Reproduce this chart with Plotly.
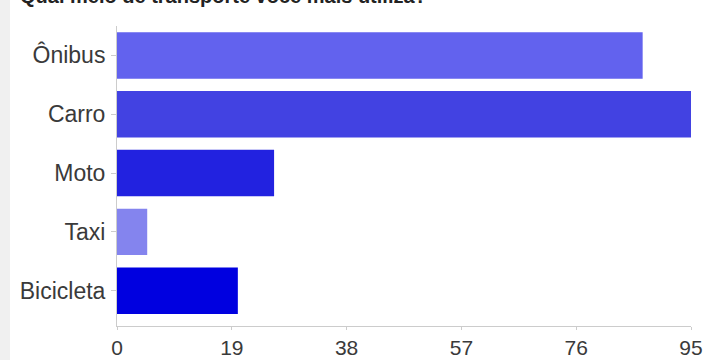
import plotly.graph_objects as go

categories = ["Ônibus", "Carro", "Moto", "Taxi", "Bicicleta"]
values = [87, 95, 26, 5, 20]
colors = ["#6262ee", "#4242e2", "#2222e0", "#8484ee", "#0000e0"]
x_ticks = [0, 19, 38, 57, 76, 95]
title_text = "Qual meio de transporte você mais utiliza?"

fig = go.Figure(go.Bar(
    x=values, y=categories, orientation="h",
    marker=dict(color=colors, line=dict(width=0)),
))

fig.update_layout(
    width=707, height=360,
    margin=dict(l=117, r=16, t=26, b=34),
    paper_bgcolor="white", plot_bgcolor="white",
    bargap=0.21,
    showlegend=False,
    font=dict(family="Liberation Sans, Arial, sans-serif", size=22, color="#3a3a3a"),
)
fig.add_annotation(text="<b>" + title_text + "</b>", xref="paper", yref="paper",
                   x=-99/574, y=1, xanchor="left", yanchor="bottom", yshift=17,
                   showarrow=False, font=dict(size=20, color="#222"))
fig.update_xaxes(range=[0, 95], tickvals=x_ticks, showgrid=False, zeroline=False,
                 showline=True, linecolor="#cccccc", linewidth=1, automargin=False,
                 tickfont=dict(size=21), ticklabelstandoff=0,
                 ticks="outside", ticklen=3, tickcolor="#cccccc", fixedrange=True)
fig.update_yaxes(categoryorder="array", categoryarray=categories,
                 range=[4.6, -0.5], showgrid=False, zeroline=False, automargin=False,
                 showline=True, linecolor="#cccccc", linewidth=1,
                 tickfont=dict(size=23),
                 ticks="outside", ticklen=5, tickcolor="#cccccc", ticklabelstandoff=1)
fig.add_shape(type="rect", xref="paper", yref="paper", x0=-117/574, x1=-107/574,
              y0=-1, y1=2, fillcolor="#f0f0f0", line=dict(width=0), layer="below")

fig.write_html("out.html", config={"displayModeBar": False},
               post_script="document.body.style.margin='0';document.body.style.overflow='hidden';")
